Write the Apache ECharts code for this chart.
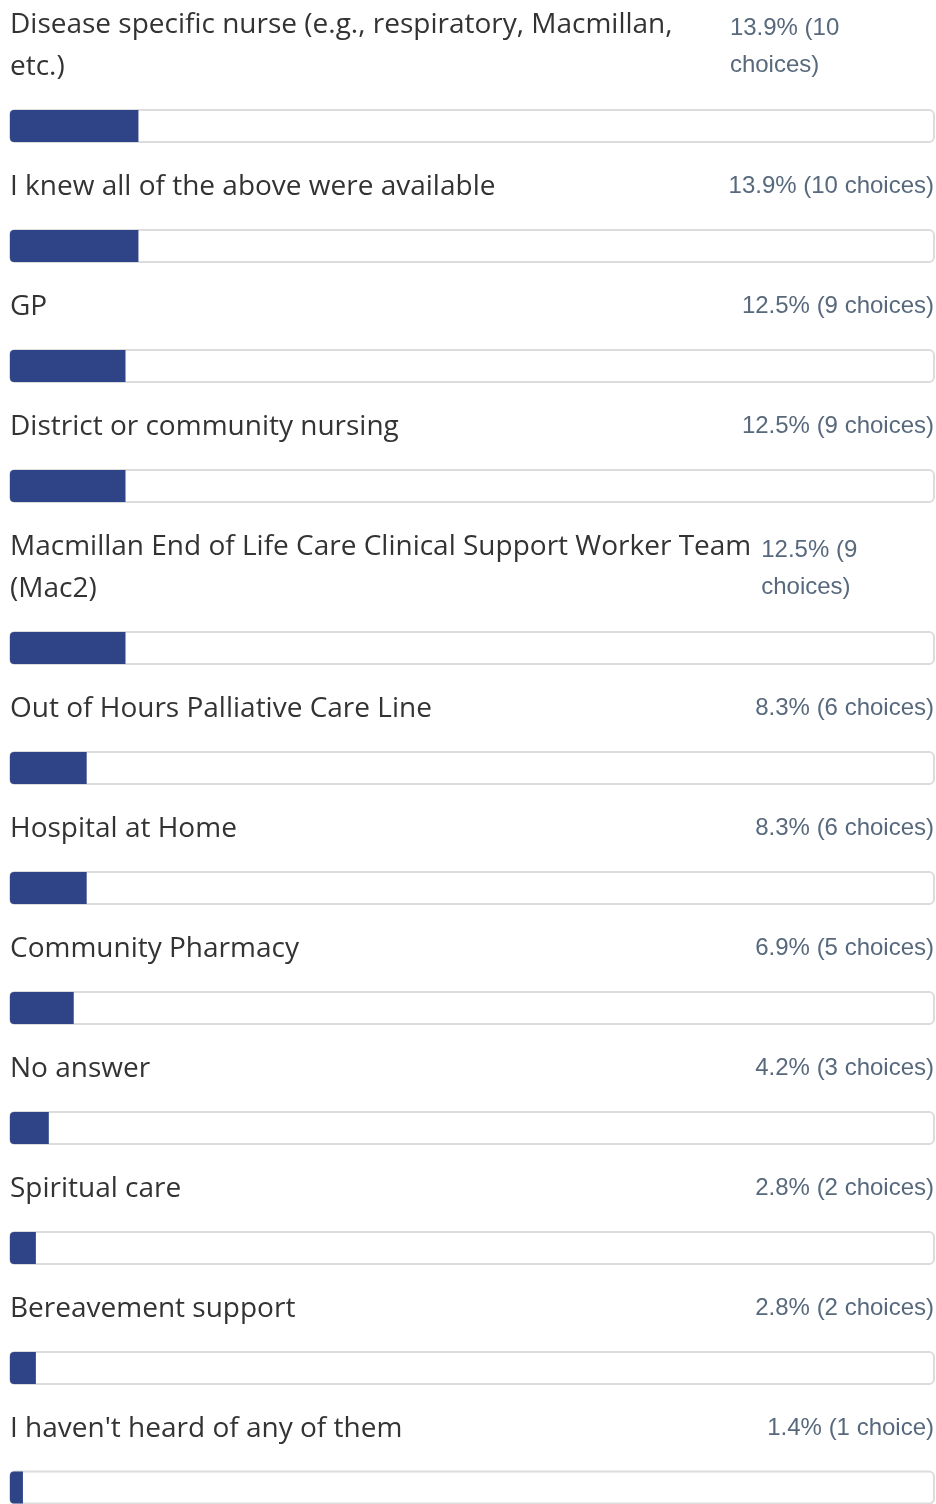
<!DOCTYPE html>
<html><head><meta charset="utf-8">
<script src="https://cdn.jsdelivr.net/npm/echarts@6/dist/echarts.min.js"></script>
<style>html,body{margin:0;padding:0;background:#fff}#c{width:936px;height:1504px}</style>
</head><body><div id="c"></div>
<script>
// ---- data ----
const categories = [
  'Disease specific nurse (e.g., respiratory, Macmillan, etc.)',
  'I knew all of the above were available',
  'GP',
  'District or community nursing',
  'Macmillan End of Life Care Clinical Support Worker Team (Mac2)',
  'Out of Hours Palliative Care Line',
  'Hospital at Home',
  'Community Pharmacy',
  'No answer',
  'Spiritual care',
  'Bereavement support',
  "I haven't heard of any of them"
];
const percents = [13.9, 13.9, 12.5, 12.5, 12.5, 8.3, 8.3, 6.9, 4.2, 2.8, 2.8, 1.4];
const counts = [10, 10, 9, 9, 9, 6, 6, 5, 3, 2, 2, 1];

// ---- style ----
const LEFT = 10, WIDTH = 924;
const LABEL_FONT = '400 28px "Open Sans"';
const PCT_FONT = '400 24px "Liberation Sans"';
const LABEL_LH = 42, PCT_LH = 37;
const BAR_H = 34;

const mctx = document.createElement('canvas').getContext('2d');
function tw(t, font) { mctx.font = font; return mctx.measureText(t).width; }
function wrap(text, font, maxW) {
  const words = text.split(' ');
  const lines = []; let cur = '';
  for (const w of words) {
    const test = cur ? cur + ' ' + w : w;
    if (cur && tw(test, font) > maxW) { lines.push(cur); cur = w; } else cur = test;
  }
  if (cur) lines.push(cur);
  return lines;
}

function build() {
  const graphics = [], grids = [], xAxes = [], yAxes = [], series = [];
  let blockTop = 2;
  categories.forEach((cat, i) => {
    const pct = percents[i] + '% (' + counts[i] + (counts[i] === 1 ? ' choice)' : ' choices)');
    const lw = tw(cat, LABEL_FONT), pw = tw(pct, PCT_FONT);
    let labelLines, pctLines, pctX, pctAlign;
    if (lw + pw <= WIDTH) {
      labelLines = [cat]; pctLines = [pct]; pctX = LEFT + WIDTH; pctAlign = 'right';
    } else {
      const over = lw + pw - WIDTH;
      const labelBox = lw - over * lw / (lw + pw);
      const pctBox = WIDTH - labelBox;
      labelLines = wrap(cat, LABEL_FONT, labelBox);
      pctLines = wrap(pct, PCT_FONT, pctBox);
      pctX = LEFT + labelBox; pctAlign = 'left';
    }
    const L = labelLines.length;
    graphics.push({
      type: 'text', x: LEFT, y: blockTop + 2, silent: true,
      style: { text: labelLines.join('\n'), font: LABEL_FONT, fill: '#333333',
        lineHeight: LABEL_LH, align: 'left', verticalAlign: 'top' }
    });
    graphics.push({
      type: 'text', x: pctX, y: blockTop + (pctLines.length > 1 ? 8 : 4), silent: true,
      style: { text: pctLines.join('\n'), font: PCT_FONT, fill: '#58697d',
        lineHeight: PCT_LH, align: pctAlign, verticalAlign: 'top' }
    });
    const barTop = blockTop + LABEL_LH * L + 23;
    grids.push({ left: LEFT, width: WIDTH, top: barTop, height: BAR_H, containLabel: false });
    xAxes.push({ gridIndex: i, type: 'value', min: 0, max: 100, show: false });
    yAxes.push({ gridIndex: i, type: 'category', data: [cat], show: false });
    series.push({
      type: 'bar', xAxisIndex: i, yAxisIndex: i, data: [percents[i]], barWidth: 32,
      showBackground: true,
      backgroundStyle: { color: '#ffffff', borderColor: '#dcdcdc', borderWidth: 2, borderRadius: 5 },
      itemStyle: { color: '#2e4487', borderRadius: [4, 0, 0, 4] },
      silent: true
    });
    blockTop = barTop + BAR_H + 21;
  });
  return { animation: false, grid: grids, xAxis: xAxes, yAxis: yAxes, series: series, graphic: graphics };
}

const chart = echarts.init(document.getElementById('c'), null, { renderer: 'canvas' });
chart.setOption(build());
</script></body></html>
